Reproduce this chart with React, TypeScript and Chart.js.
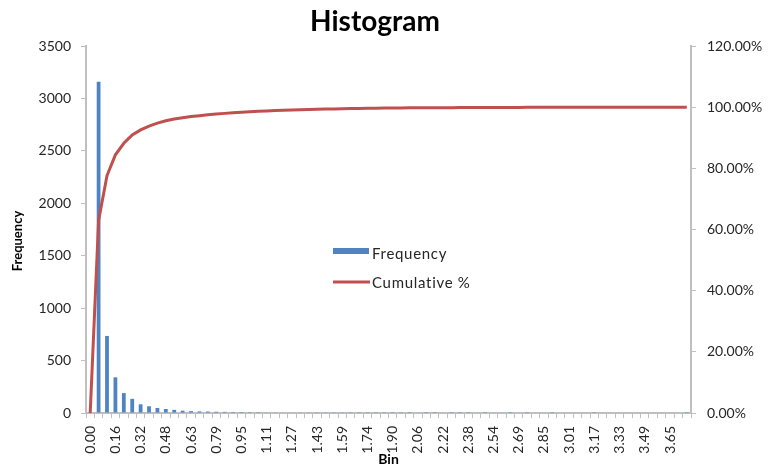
import React, { useEffect, useRef } from "react";
import { Chart, registerables } from "chart.js";

Chart.register(...registerables);

const TITLE = "Histogram";
const X_TITLE = "Bin";
const Y_TITLE = "Frequency";
const FREQ_LABEL = "Frequency";
const CUM_LABEL = "Cumulative %";

// Bin upper edges
const bins: string[] = [
  "0.00", "0.05", "0.11", "0.16", "0.21", "0.26", "0.32", "0.37", "0.42", "0.48",
  "0.53", "0.58", "0.63", "0.69", "0.74", "0.79", "0.85", "0.90", "0.95", "1.00",
  "1.06", "1.11", "1.16", "1.22", "1.27", "1.32", "1.37", "1.43", "1.48", "1.53",
  "1.59", "1.64", "1.69", "1.74", "1.80", "1.85", "1.90", "1.95", "2.01", "2.06",
  "2.11", "2.17", "2.22", "2.27", "2.32", "2.38", "2.43", "2.48", "2.54", "2.59",
  "2.64", "2.69", "2.75", "2.80", "2.85", "2.91", "2.96", "3.01", "3.06", "3.12",
  "3.17", "3.22", "3.28", "3.33", "3.38", "3.43", "3.49", "3.54", "3.59", "3.65",
  "3.70", "3.75",
];

// Counts per bin
const frequency: number[] = [
  0, 3160, 735, 340, 190, 135, 83, 64, 48, 38,
  30, 22, 18, 15, 14, 12, 11, 10, 9, 8,
  8, 6, 6, 5, 5, 4, 4, 3, 3, 3,
  3, 2, 2, 2, 2, 2, 1, 2, 1, 0,
  1, 1, 0, 1, 1, 1, 0, 1, 0, 0,
  1, 0, 1, 0, 0, 1, 0, 0, 0, 0,
  1, 0, 0, 0, 0, 0, 0, 0, 0, 0,
  0, 1,
];

// Running share of all counts, in percent
const cumulativePct: number[] = [
  0, 62.99, 77.64, 84.41, 88.2, 90.89, 92.55, 93.82, 94.78, 95.54,
  96.13, 96.57, 96.93, 97.23, 97.51, 97.75, 97.97, 98.17, 98.35, 98.51,
  98.66, 98.78, 98.9, 99.0, 99.1, 99.18, 99.26, 99.32, 99.38, 99.44,
  99.5, 99.54, 99.58, 99.62, 99.66, 99.7, 99.72, 99.76, 99.78, 99.78,
  99.8, 99.82, 99.82, 99.84, 99.86, 99.88, 99.88, 99.9, 99.9, 99.9,
  99.92, 99.92, 99.94, 99.94, 99.94, 99.96, 99.96, 99.96, 99.96, 99.96,
  99.98, 99.98, 99.98, 99.98, 99.98, 99.98, 99.98, 99.98, 99.98, 99.98,
  99.98, 100,
];

const freqTicks = { min: 0, max: 3500, step: 500 };
const pctTicks = { min: 0, max: 120, step: 20 };

const FONT = "Lato, 'Open Sans', sans-serif";
const BAR_COLOR = "#4F84C4";
const LINE_COLOR = "#C0504D";
const AXIS_COLOR = "#BFBFBF";
const TEXT_COLOR = "#262626";

// Draws the title, axis titles and the in-plot legend
const overlayPlugin = {
  id: "overlay",
  afterDraw(chart: any) {
    const { ctx, chartArea } = chart;
    ctx.save();
    ctx.fillStyle = "#000";
    ctx.textAlign = "center";
    ctx.textBaseline = "middle";
    ctx.font = `bold 28px ${FONT}`;
    ctx.fillText(TITLE, 375, 22);

    ctx.font = `bold 14px ${FONT}`;
    ctx.fillText(X_TITLE, (chartArea.left + chartArea.right) / 2, 459);

    ctx.save();
    ctx.translate(18, 241);
    ctx.rotate(-Math.PI / 2);
    ctx.font = `bold 13px ${FONT}`;
    ctx.fillText(Y_TITLE, 0, 0);
    ctx.restore();

    // legend
    const lx = chartArea.left + 247;
    ctx.fillStyle = BAR_COLOR;
    ctx.fillRect(lx, 248, 36, 6);
    ctx.strokeStyle = LINE_COLOR;
    ctx.lineWidth = 3;
    ctx.beginPath();
    ctx.moveTo(lx, 282);
    ctx.lineTo(lx + 37, 282);
    ctx.stroke();
    ctx.fillStyle = TEXT_COLOR;
    ctx.textAlign = "left";
    ctx.font = `15px ${FONT}`;
    ctx.letterSpacing = "0.7px";
    ctx.fillText(FREQ_LABEL, lx + 39, 254);
    ctx.fillText(CUM_LABEL, lx + 39, 283);
    ctx.restore();
  },
};

export default function App() {
  const canvasRef = useRef<HTMLCanvasElement | null>(null);

  useEffect(() => {
    if (!canvasRef.current) return;
    const tickFont = { family: FONT, size: 14 };
    const chart = new Chart(canvasRef.current, {
      type: "bar",
      data: {
        labels: bins,
        datasets: [
          {
            type: "bar",
            label: FREQ_LABEL,
            data: frequency,
            backgroundColor: BAR_COLOR,
            yAxisID: "y",
            categoryPercentage: 1,
            barPercentage: 0.45,
            order: 2,
          },
          {
            type: "line",
            label: CUM_LABEL,
            data: cumulativePct,
            borderColor: LINE_COLOR,
            backgroundColor: LINE_COLOR,
            borderWidth: 3,
            pointRadius: 0,
            tension: 0,
            yAxisID: "y1",
            order: 1,
          },
        ],
      },
      options: {
        responsive: true,
        maintainAspectRatio: false,
        animation: false,
        layout: { padding: { top: 46, left: 0, right: 0, bottom: 0 } },
        plugins: {
          legend: { display: false },
          title: { display: false },
          tooltip: { enabled: false },
        },
        scales: {
          x: {
            grid: {
              display: true,
              drawOnChartArea: false,
              drawTicks: true,
              tickLength: 5,
              color: AXIS_COLOR,
              offset: true,
            },
            border: { display: true, color: AXIS_COLOR, width: 2 },
            ticks: {
              autoSkip: false,
              minRotation: 90,
              maxRotation: 90,
              padding: 8,
              color: TEXT_COLOR,
              font: tickFont,
              callback: (_v: any, i: number) => (i % 3 === 0 ? bins[i] : ""),
            },
            afterFit: (s: any) => {
              s.height = 53;
            },
          },
          y: {
            position: "left",
            min: freqTicks.min,
            max: freqTicks.max,
            grid: {
              drawOnChartArea: false,
              tickLength: 5,
              color: AXIS_COLOR,
            },
            border: { display: true, color: AXIS_COLOR, width: 2 },
            ticks: {
              stepSize: freqTicks.step,
              padding: 10,
              color: TEXT_COLOR,
              font: tickFont,
              callback: (v: any) => String(v),
            },
            afterFit: (s: any) => {
              s.width = 86;
            },
          },
          y1: {
            position: "right",
            min: pctTicks.min,
            max: pctTicks.max,
            grid: {
              drawOnChartArea: false,
              tickLength: 5,
              color: AXIS_COLOR,
            },
            border: { display: true, color: AXIS_COLOR, width: 2 },
            ticks: {
              stepSize: pctTicks.step,
              padding: 11,
              color: TEXT_COLOR,
              font: tickFont,
              callback: (v: any) => Number(v).toFixed(2) + "%",
            },
            afterFit: (s: any) => {
              s.width = 80;
            },
          },
        },
      },
      plugins: [overlayPlugin],
    });
    return () => chart.destroy();
  }, []);

  return (
    <div
      style={{
        position: "fixed",
        left: 0,
        top: 0,
        width: 771,
        height: 466,
        background: "#fff",
      }}
    >
      <canvas ref={canvasRef} style={{ display: "block" }} />
    </div>
  );
}
